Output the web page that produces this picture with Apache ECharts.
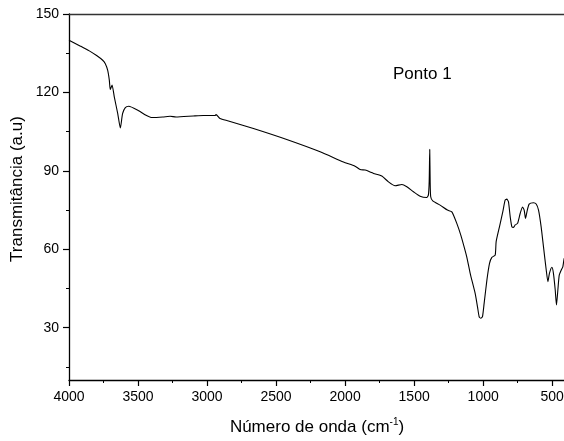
<!DOCTYPE html>
<html>
<head>
<meta charset="utf-8">
<script src="https://cdn.jsdelivr.net/npm/echarts@6/dist/echarts.min.js"></script>
<style>
  html, body { margin: 0; padding: 0; background: #fff; }
  #chart { width: 564px; height: 441px; }
</style>
</head>
<body>
<div id="chart"></div>
<script>
// FTIR spectrum, sample "Ponto 1": wavenumber (cm-1) vs transmittance (a.u.)
const wavenumber = [
  4000, 3920, 3853, 3800, 3756, 3737, 3720, 3708, 3701, 3688, 3672, 3647, 3628,
  3612, 3592, 3567, 3502, 3442, 3399, 3321, 3268, 3225, 3100, 3027, 2942, 2935,
  2906, 2845, 2664, 2423, 2181, 2012, 1928, 1891, 1855, 1819, 1794, 1734, 1686,
  1638, 1589, 1553, 1505, 1457, 1409, 1397, 1391, 1387, 1384, 1380, 1365, 1312,
  1259, 1227, 1191, 1162, 1138, 1119, 1094, 1082, 1058, 1041, 1029, 1017, 1005,
  993, 973, 954, 937, 913, 906, 882, 858, 841, 829, 817, 804, 792, 780, 768,
  751, 732, 715, 703, 693, 683, 667, 635, 616, 599, 580, 563, 543, 531, 520,
  502, 491, 478, 469, 459, 449, 435, 423, 413, 400
];
const transmittance = [
  140.0, 137.8, 135.9, 134.1, 132.3, 131.0, 128.5, 124.7, 121.1, 122.8, 118.3, 111.9, 106.4,
  111.9, 114.2, 114.7, 113.2, 111.3, 110.4, 110.6, 110.9, 110.6, 111.0, 111.2, 111.2, 111.5,
  110.0, 109.1, 106.2, 102.0, 97.3, 93.4, 91.8, 90.5, 90.3, 89.6, 89.0, 88.0, 85.8,
  84.3, 84.8, 83.9, 82.0, 80.3, 79.8, 80.7, 86.0, 98.2, 86.0, 80.1, 78.5, 76.9,
  75.0, 74.3, 69.9, 65.4, 60.9, 57.1, 50.8, 48.2, 43.1, 38.0, 34.2, 33.6, 34.2,
  39.3, 48.2, 54.6, 56.9, 57.8, 62.9, 68.6, 74.3, 78.8, 79.2, 78.2, 72.4, 68.6, 68.4, 69.3,
  69.9, 73.7, 76.2, 75.0, 71.8, 74.3, 77.3, 77.8, 77.3, 75.0, 68.6, 60.9, 52.0, 47.6, 50.8,
  53.1, 50.8, 44.4, 38.7, 44.4, 50.1, 52.0, 53.3, 56.5, 57.0
];

const xMajorTicks = [4000, 3500, 3000, 2500, 2000, 1500, 1000, 500];
const xMinorTicks = [3750, 3250, 2750, 2250, 1750, 1250, 750];
const yMajorTicks = [30, 60, 90, 120, 150];
const yMinorTicks = [15, 45, 75, 105, 135];

const sampleLabel = 'Ponto 1';
const xTitle = 'Número de onda (cm{sup|-1})';
const yTitle = 'Transmitância (a.u)';

const points = wavenumber.map((w, i) => [w, transmittance[i]]);

const font = '"Liberation Sans", Arial, sans-serif';
const axisColor = '#000';
const plainNumber = v => String(v);

const chart = echarts.init(document.getElementById('chart'), null, { renderer: 'canvas' });

const baseX = {
  type: 'value', min: 400, max: 4000, inverse: true, gridIndex: 0,
  splitLine: { show: false }
};
const baseY = {
  type: 'value', min: 10, max: 150, gridIndex: 0,
  splitLine: { show: false }
};

chart.setOption({
  animation: false,
  backgroundColor: '#fff',
  grid: { left: 69, top: 14, width: 497, height: 366, containLabel: false, outerBoundsMode: 'none' },
  xAxis: [
    Object.assign({}, baseX, {
      position: 'bottom',
      axisLine: { show: true, lineStyle: { color: axisColor, width: 1.3 } },
      axisTick: { show: true, inside: false, length: 6, customValues: xMajorTicks,
                  lineStyle: { color: axisColor, width: 1.2 } },
      axisLabel: { show: true, customValues: xMajorTicks, margin: 10, formatter: plainNumber,
                   fontFamily: font, fontSize: 14, color: '#000', hideOverlap: false }
    }),
    Object.assign({}, baseX, {
      position: 'bottom',
      axisLine: { show: false },
      axisTick: { show: true, inside: false, length: 3, customValues: xMinorTicks,
                  lineStyle: { color: axisColor, width: 1 } },
      axisLabel: { show: false }
    }),
    Object.assign({}, baseX, {
      position: 'top',
      axisLine: { show: true, lineStyle: { color: '#333', width: 1.3 } },
      axisTick: { show: false },
      axisLabel: { show: false }
    })
  ],
  yAxis: [
    Object.assign({}, baseY, {
      position: 'left',
      axisLine: { show: true, lineStyle: { color: axisColor, width: 1.3 } },
      axisTick: { show: true, inside: false, length: 6, customValues: yMajorTicks,
                  lineStyle: { color: axisColor, width: 1.2 } },
      axisLabel: { show: true, customValues: yMajorTicks, margin: 10, formatter: plainNumber,
                   fontFamily: font, fontSize: 14, color: '#000' }
    }),
    Object.assign({}, baseY, {
      position: 'left',
      axisLine: { show: false },
      axisTick: { show: true, inside: false, length: 3, customValues: yMinorTicks,
                  lineStyle: { color: axisColor, width: 1 } },
      axisLabel: { show: false }
    })
  ],
  series: [{
    type: 'line',
    xAxisIndex: 0,
    yAxisIndex: 0,
    data: points,
    showSymbol: false,
    smooth: 0.2,
    lineStyle: { color: '#000', width: 1.1 },
    silent: true
  }],
  graphic: [
    {
      type: 'text', left: 393, top: 66,
      style: { text: sampleLabel, font: '17px ' + font, fill: '#000' }
    },
    {
      type: 'text', x: 317, y: 427,
      style: {
        text: xTitle, fontSize: 17, fontFamily: font, fill: '#000',
        align: 'center', verticalAlign: 'middle', lineHeight: 20,
        rich: { sup: { fontSize: 10, fontFamily: font, verticalAlign: 'top', lineHeight: 20 } }
      }
    },
    {
      type: 'text', x: 17, y: 189, rotation: Math.PI / 2,
      style: {
        text: yTitle, fontSize: 17, fontFamily: font, fill: '#000',
        align: 'center', verticalAlign: 'middle'
      }
    }
  ]
});
</script>
</body>
</html>
